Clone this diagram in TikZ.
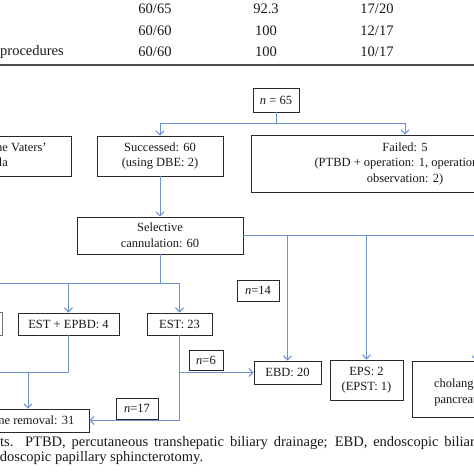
\documentclass[tikz,border=0pt]{standalone}
\usepackage{fontspec}
\setmainfont{Liberation Serif}
\usetikzlibrary{arrows.meta}
\definecolor{connc}{RGB}{108,146,208}
\definecolor{boxc}{RGB}{40,40,40}
\definecolor{txtc}{RGB}{25,25,25}
\newcommand\dgfont{\fontsize{12.5}{15.5}\selectfont}
\newcommand\tbfont{\fontsize{14.5}{17}\selectfont}
\newcommand\cpfont{\fontsize{14.5}{16}\selectfont}
\begin{document}
\begin{tikzpicture}[x=1pt,y=-1pt,
  box/.style={draw=boxc, line width=0.9pt, align=center, inner sep=0pt, font=\dgfont, text=txtc},
  sz/.style 2 args={minimum width=#1pt, minimum height=#2pt},
  tb/.style={font=\tbfont, text=txtc, inner sep=0pt},
  cp/.style={font=\cpfont, text=txtc, inner sep=0pt, anchor=west},
  conn/.style={draw=connc, line width=1pt},
  arr/.style={conn, -{Straight Barb[length=4pt,width=8pt]}}
]
\useasboundingbox (0,0) rectangle (474,474);
\clip (0,0) rectangle (474,474);
\fill[white] (0,0) rectangle (474,474);

% table fragment
\node[tb] (t11) at (155,9) {60/65};
\node[tb] (t12) at (266,9) {92.3};
\node[tb] (t13) at (377,9) {17/20};
\node[tb] (t21) at (155,31) {60/60};
\node[tb] (t22) at (266,31) {100};
\node[tb] (t23) at (377,31) {12/17};
\node[tb, anchor=west] (t30) at (0,52) {procedures};
\node[tb] (t31) at (155,52) {60/60};
\node[tb] (t32) at (266,52) {100};
\node[tb] (t33) at (377,52) {10/17};
\draw[draw=black!70, line width=1.3pt] (0,65) -- (474,65);

% boxes
\node[box, sz={46}{24}] (n65) at (276,100) {\textit{n} = 65};
\node[box, sz={160}{40}] (vat) at (-9,156) {Unreached the Vaters'\\papilla};
\node[box, sz={126}{40}] (succ) at (160,156) {Successed: 60\\(using DBE: 2)};
\node[box, sz={308}{57}] (failed) at (405,163.5) {Failed: 5\\(PTBD + operation: 1, operation: 2,\\observation: 2)};
\node[box, sz={166}{37}, font=\fontsize{12.5}{16}\selectfont] (sel) at (160,235.5) {Selective\\cannulation: 60};
\node[box, sz={64}{23}, draw=black!55] (lft) at (-30,323.5) {};
\node[box, sz={101}{22}] (estepbd) at (68.5,324) {EST + EPBD: 4};
\node[box, sz={65}{22}] (est) at (179.5,324) {EST: 23};
\node[box, sz={42}{21}] (n14) at (258,290.5) {\textit{n}=14};
\node[box, sz={34}{20}] (n6) at (206,360) {\textit{n}=6};
\node[box, sz={42}{21}] (n17) at (137,408.5) {\textit{n}=17};
\node[box, sz={67}{23}] (ebd) at (287.5,372.5) {EBD: 20};
\node[box, sz={73}{40}] (eps) at (366.5,380) {EPS: 2\\(EPST: 1)};
\node[box, sz={128}{56}, font=\fontsize{12.5}{16}\selectfont] (chol) at (476,389) {\mbox{}\\cholangiography\\pancreatography};
\node[box, sz={122}{23}] (stone) at (28,420.5) {Stone removal: 31};

% junction coordinates
\coordinate (j0) at (276,123);
\coordinate (j1) at (160,283);
\coordinate (j2) at (28,372);
\coordinate (jr) at (490,235.5);

% connectors
\draw[conn] (n65.south) -- (j0);
\draw[arr] (j0) -| (succ.north);
\draw[arr] (j0) -| (failed.north);
\draw[arr] (succ.south) -- (sel.north);
\draw[conn] (sel.east) -- (jr);
\draw[arr] (sel.east -| ebd.north) -- (ebd.north);
\draw[arr] (sel.east -| eps.north) -- (eps.north);
\draw[arr] (sel.east -| chol.north) -- (chol.north);
\draw[conn] (sel.south) -- (j1);
\draw[arr] (j1) -| (est.north);
\draw[arr] (j1) -| (estepbd.north);
\draw[arr] (j1) -| (lft.north);
\draw[conn] (lft.south) |- (j2);
\draw[conn] (estepbd.south) |- (j2);
\draw[arr] (j2) -- (stone.north);
\draw[arr] (est.south) |- (stone.east);
\draw[arr] (est.south |- ebd.west) -- (ebd.west);

% caption fragment
\node[cp] (cap1) at (0,443) {\makebox[482pt][s]{ts. PTBD, percutaneous transhepatic biliary drainage; EBD, endoscopic biliary}};
\node[cp] (cap2) at (-14,458) {endoscopic papillary sphincterotomy.};
\end{tikzpicture}
\end{document}
